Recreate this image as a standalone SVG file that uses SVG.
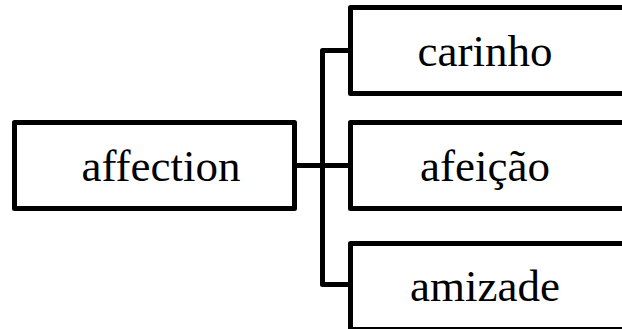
<svg xmlns="http://www.w3.org/2000/svg" width="622" height="329" viewBox="0 0 622 329">
<style>
.box{fill:#fff;stroke:#000;stroke-width:5;stroke-linejoin:round}
.lbl{font-family:'Liberation Serif','Times New Roman',serif;font-size:45px;fill:#000;text-anchor:middle}
.con{fill:none;stroke:#000;stroke-width:5;stroke-linejoin:round;stroke-linecap:butt}
</style>
<rect width="622" height="329" fill="#fff"/>
<g id="connectors">
<path class="con" d="M294.5 165.5H350.5"/>
<path class="con" d="M350.5 50.5H322.5V284.5H350.5"/>
</g>
<g id="node-affection">
<rect class="box" x="14.5" y="122.5" width="280" height="86"/>
<text class="lbl" x="161" y="180.5">affection</text>
</g>
<g id="node-carinho">
<rect class="box" x="350.5" y="7.5" width="280" height="86"/>
<text class="lbl" x="485" y="65.5">carinho</text>
</g>
<g id="node-afeicao">
<rect class="box" x="350.5" y="122.5" width="280" height="86"/>
<text class="lbl" x="485" y="180.5">afeição</text>
</g>
<g id="node-amizade">
<rect class="box" x="350.5" y="243.5" width="280" height="86"/>
<text class="lbl" x="485" y="300.5">amizade</text>
</g>
</svg>
